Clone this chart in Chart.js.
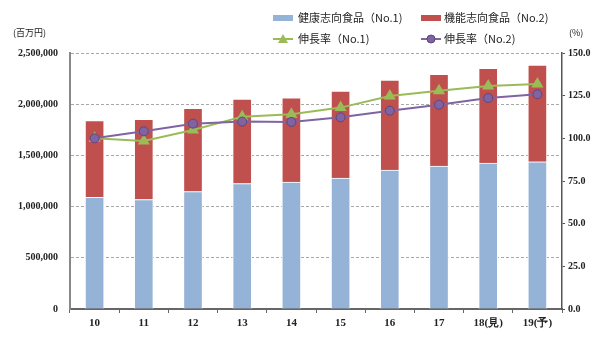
<!DOCTYPE html>
<html lang="ja">
<head>
  <meta charset="UTF-8">
  <title>健康志向食品・機能志向食品 市場規模推移</title>
  <script src="https://cdn.jsdelivr.net/npm/chart.js"></script>
  <style>
    html, body { margin: 0; padding: 0; background: #fff; }
    #wrap { position: relative; width: 600px; height: 337px; }
  </style>
</head>
<body>
  <div id="wrap">
    <canvas id="marketChart" width="600" height="337"></canvas>
  </div>

  <script>
    // 年度ラベル
    const years = ["10", "11", "12", "13", "14", "15", "16", "17", "18(見)", "19(予)"];

    // 市場規模（百万円）
    const healthFood = [1090000, 1069000, 1147000, 1225000, 1240000, 1279000, 1357000, 1396000, 1426000, 1438000];
    const functionalFood = [750000, 783000, 813000, 826000, 823000, 850000, 879000, 896000, 924000, 945000];

    // 伸長率（%）
    const growthNo1 = [100.0, 98.4, 104.9, 112.7, 114.1, 118.0, 124.8, 127.9, 130.7, 131.8];
    const growthNo2 = [100.0, 104.1, 108.6, 109.8, 109.6, 112.3, 116.2, 119.7, 123.6, 125.8];

    const seriesNames = ["健康志向食品（No.1)", "機能志向食品（No.2)", "伸長率（No.1)", "伸長率（No.2)"];

    const BLUE = "#95b3d7";
    const RED = "#c0504d";
    const GREEN = "#9bbb59";
    const PURPLE = "#8064a2";

    const tickFont = { family: "'Liberation Serif', serif", size: 10, weight: "bold" };

    // 凡例と単位ラベルはキャンバスに直接描く
    const headerPlugin = {
      id: "header",
      afterDraw(chart) {
        const ctx = chart.ctx;
        ctx.save();
        ctx.font = "11px 'Noto Sans CJK JP', sans-serif";
        ctx.fillStyle = "#222";
        ctx.textBaseline = "middle";

        const cols = [273, 421];
        const rows = [18, 39];

        // 棒の凡例
        ctx.fillStyle = BLUE;
        ctx.fillRect(cols[0], rows[0] - 3, 20, 6);
        ctx.fillStyle = RED;
        ctx.fillRect(cols[1], rows[0] - 3, 20, 6);

        // 折れ線の凡例
        ctx.lineWidth = 2;
        ctx.strokeStyle = GREEN;
        ctx.beginPath();
        ctx.moveTo(cols[0], rows[1]);
        ctx.lineTo(cols[0] + 20, rows[1]);
        ctx.stroke();
        ctx.fillStyle = GREEN;
        ctx.beginPath();
        ctx.moveTo(cols[0] + 10, rows[1] - 5);
        ctx.lineTo(cols[0] + 15, rows[1] + 4);
        ctx.lineTo(cols[0] + 5, rows[1] + 4);
        ctx.closePath();
        ctx.fill();

        ctx.strokeStyle = PURPLE;
        ctx.beginPath();
        ctx.moveTo(cols[1], rows[1]);
        ctx.lineTo(cols[1] + 20, rows[1]);
        ctx.stroke();
        ctx.fillStyle = PURPLE;
        ctx.strokeStyle = "#5c4683";
        ctx.lineWidth = 1;
        ctx.beginPath();
        ctx.arc(cols[1] + 10, rows[1], 4, 0, Math.PI * 2);
        ctx.fill();
        ctx.stroke();

        ctx.fillStyle = "#222";
        ctx.fillText(seriesNames[0], cols[0] + 25, rows[0]);
        ctx.fillText(seriesNames[1], cols[1] + 23, rows[0]);
        ctx.fillText(seriesNames[2], cols[0] + 25, rows[1]);
        ctx.fillText(seriesNames[3], cols[1] + 23, rows[1]);

        // 軸の単位
        ctx.font = "9px 'Noto Sans CJK JP', sans-serif";
        ctx.fillText("(百万円)", 13, 33);
        ctx.fillText("(%)", 569, 33);
        ctx.restore();
      }
    };

    const ctx = document.getElementById("marketChart").getContext("2d");
    const chart = new Chart(ctx, {
      type: "bar",
      data: {
        labels: years,
        datasets: [
          {
            type: "line",
            label: seriesNames[3],
            data: growthNo2,
            yAxisID: "y1",
            borderColor: PURPLE,
            borderWidth: 2,
            backgroundColor: PURPLE,
            pointStyle: "circle",
            pointRadius: 4.5,
            pointBackgroundColor: PURPLE,
            pointBorderColor: "#5c4683",
            pointBorderWidth: 1,
            tension: 0,
            order: 0
          },
          {
            type: "line",
            label: seriesNames[2],
            data: growthNo1,
            yAxisID: "y1",
            borderColor: GREEN,
            borderWidth: 2,
            backgroundColor: GREEN,
            pointStyle: "triangle",
            pointRadius: 5,
            pointBackgroundColor: GREEN,
            pointBorderColor: GREEN,
            tension: 0,
            order: 1
          },
          {
            label: seriesNames[0],
            data: healthFood,
            backgroundColor: BLUE,
            borderColor: "#ffffff",
            borderWidth: 1,
            barThickness: 19,
            stack: "market",
            order: 2
          },
          {
            label: seriesNames[1],
            data: functionalFood,
            backgroundColor: RED,
            borderColor: "#ffffff",
            borderWidth: 1,
            barThickness: 19,
            stack: "market",
            order: 2
          }
        ]
      },
      options: {
        responsive: false,
        animation: false,
        layout: { padding: { top: 53, right: 0, left: 0, bottom: 0 } },
        plugins: {
          legend: { display: false },
          tooltip: { enabled: false }
        },
        scales: {
          x: {
            stacked: true,
            offset: true,
            afterFit(scale) { scale.height = 28; },
            grid: {
              display: true,
              drawOnChartArea: false,
              drawTicks: true,
              tickLength: 4,
              color: "#666"
            },
            border: { display: true, color: "#666", width: 2 },
            ticks: { color: "#222", font: { family: "'Liberation Serif', serif", size: 11, weight: "bold" }, padding: 4 }
          },
          y: {
            stacked: true,
            position: "left",
            min: 0,
            max: 2500000,
            afterFit(scale) { scale.width = 70; },
            ticks: {
              stepSize: 500000,
              color: "#222",
              font: tickFont,
              padding: 12,
              callback: (v) => v.toLocaleString("en-US")
            },
            grid: { color: "#a8a8a8", lineWidth: 1, drawTicks: false },
            border: { display: true, color: "#888", width: 2, dash: [3, 2] }
          },
          y1: {
            position: "right",
            min: 0,
            max: 150,
            afterFit(scale) { scale.width = 38; },
            ticks: {
              stepSize: 25,
              color: "#222",
              font: tickFont,
              padding: 3,
              callback: (v) => v.toFixed(1)
            },
            grid: { drawOnChartArea: false, drawTicks: true, tickLength: 3, color: "#555" },
            border: { display: true, color: "#555", width: 1.5 }
          }
        }
      },
      plugins: [headerPlugin]
    });
  </script>
</body>
</html>
